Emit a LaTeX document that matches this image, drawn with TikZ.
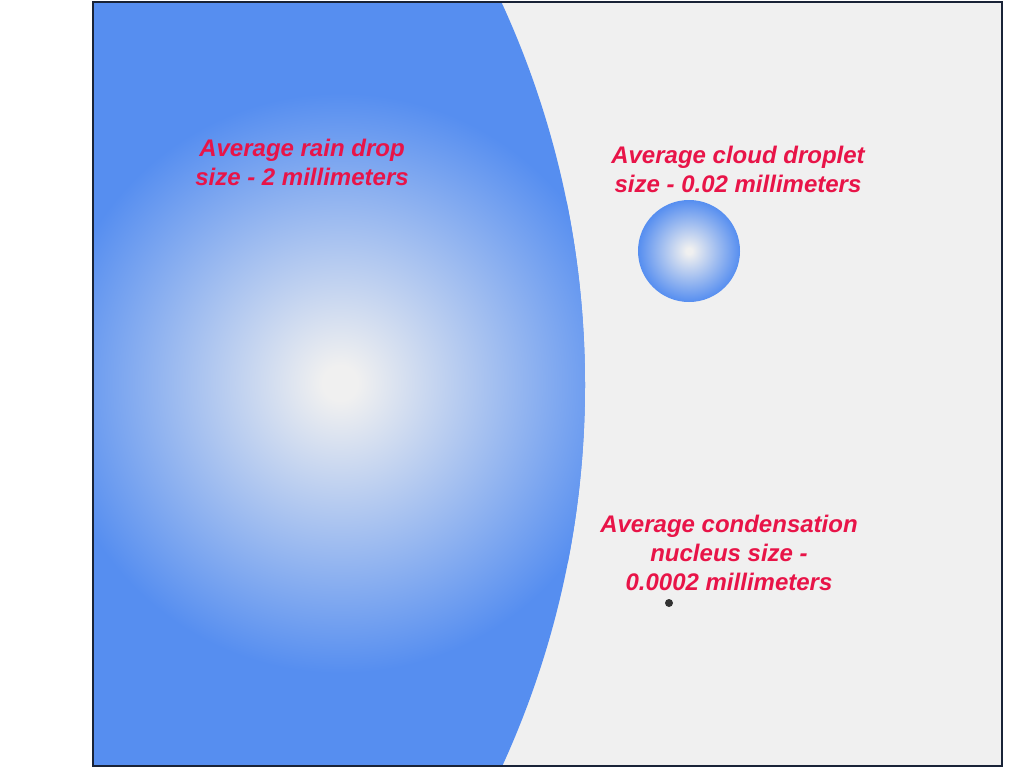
\documentclass[tikz,border=0pt]{standalone}
\usepackage{fontspec}
\setmainfont{Liberation Sans}
\definecolor{bggray}{RGB}{240,240,240}
\definecolor{dropblue}{RGB}{86,142,240}
\definecolor{dropcore}{RGB}{240,240,240}
\definecolor{labelred}{RGB}{232,20,72}
\definecolor{framec}{RGB}{25,35,55}
\definecolor{nucc}{RGB}{50,50,50}
\pgfdeclareradialshading{dropshade}{\pgfpoint{0bp}{0bp}}{color(0bp)=(dropcore); color(1.5bp)=(dropcore); color(25bp)=(dropblue); color(50bp)=(dropblue)}
\tikzset{
  label/.style={text=labelred, font=\fontsize{24}{29}\selectfont\bfseries\itshape, align=center, inner sep=0pt},
  frame/.style={draw=framec, line width=2pt},
}
\begin{document}
\begin{tikzpicture}[x=1pt,y=-1pt]
\useasboundingbox (0,0) rectangle (1024,768);
\fill[bggray] (93,2) rectangle (1002,766);
\begin{scope}
  \clip (93,2) rectangle (1002,766);
  \clip (-331,385) circle (916pt);
  \fill[dropblue] (93,2) rectangle (1002,766);
  \shade[shading=dropshade] (340,383) circle (290pt);
\end{scope}
\shade[shading=dropshade] (689,251) circle (51pt);
\fill[nucc] (669,603) circle (4pt);
\draw[frame] (93,2) rectangle (1002,766);
\node[label] (rain) at (302,162) {Average rain drop\\size - 2 millimeters};
\node[label] (cloud) at (738,169) {Average cloud droplet\\size - 0.02 millimeters};
\node[label] (nuc) at (729,553) {Average condensation\\nucleus size -\\0.0002 millimeters};
\end{tikzpicture}
\end{document}
